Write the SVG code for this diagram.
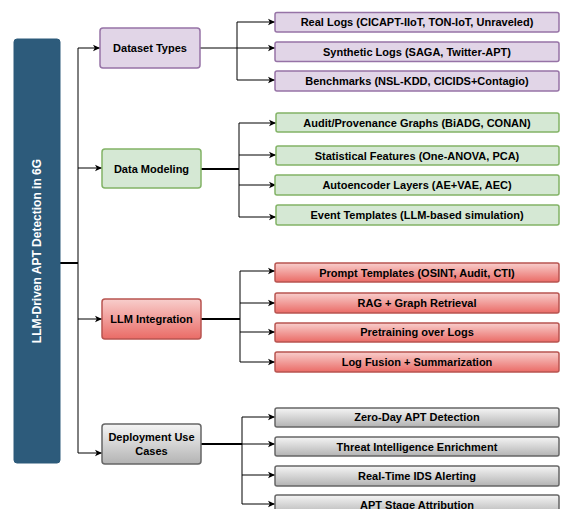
<svg xmlns="http://www.w3.org/2000/svg" width="568" height="509" viewBox="0 0 568 509">
<defs>
<linearGradient id="gRed" x1="0" y1="0" x2="0" y2="1"><stop offset="0" stop-color="#f8cecc"/><stop offset="1" stop-color="#ea6b66"/></linearGradient>
<linearGradient id="gGray" x1="0" y1="0" x2="0" y2="1"><stop offset="0" stop-color="#f5f5f5"/><stop offset="1" stop-color="#b3b3b3"/></linearGradient>
<marker id="arr" markerWidth="8" markerHeight="8" refX="7" refY="4" orient="auto" markerUnits="userSpaceOnUse"><path d="M0,0.8 L7,4 L0,7.2 L1.8,4 Z" fill="#000"/></marker>
</defs>
<style>
text{font-family:"Liberation Sans",Arial,sans-serif;font-weight:bold;font-size:11px;fill:#000;text-anchor:middle;dominant-baseline:central}
.purple{fill:#e1d5e7;stroke:#9673a6;stroke-width:1.5}
.green{fill:#d5e8d4;stroke:#82b366;stroke-width:1.5}
.red{fill:url(#gRed);stroke:#b85450;stroke-width:1.5}
.gray{fill:url(#gGray);stroke:#666666;stroke-width:1.5}
.c{fill:none;stroke:#000;stroke-width:1}
.t{fill:none;stroke:#000;stroke-width:2}
.a{fill:none;stroke:#000;stroke-width:1;marker-end:url(#arr)}
</style>
<g id="connectors">
<path class="t" d="M60,263 H78"/>
<path class="c" d="M78,48 V453"/>
<path class="a" d="M78,48 H100"/>
<path class="a" d="M78,168 H102"/>
<path class="a" d="M78,319 H102"/>
<path class="a" d="M78,453 H102"/>
<path class="c" d="M200,48 H237"/>
<path class="c" d="M237,22 V80"/>
<path class="a" d="M237,22 H275"/>
<path class="a" d="M237,48 H275"/>
<path class="a" d="M237,80 H275"/>
<path class="t" d="M201,169 H239"/>
<path class="c" d="M239,123 V217"/>
<path class="a" d="M239,123 H276"/>
<path class="a" d="M239,155 H276"/>
<path class="a" d="M239,185 H276"/>
<path class="a" d="M239,217 H276"/>
<path class="t" d="M201,319 H240"/>
<path class="c" d="M240,271 V362"/>
<path class="a" d="M240,271 H275"/>
<path class="a" d="M240,303 H275"/>
<path class="a" d="M240,332 H275"/>
<path class="a" d="M240,362 H275"/>
<path class="t" d="M201,444 H242"/>
<path class="c" d="M242,417 V504"/>
<path class="a" d="M242,417 H275"/>
<path class="a" d="M242,444 H275"/>
<path class="a" d="M242,475 H275"/>
<path class="a" d="M242,504 H275"/>
</g>
<g id="root">
<rect x="14" y="39" width="46" height="424" rx="3" fill="#2d5b7b" stroke="#2d5b7b"/>
<text transform="translate(37,251) rotate(-90)" style="fill:#ffffff;font-size:12px">LLM-Driven APT Detection in 6G</text>
</g>
<g id="dataset-types"><rect class="purple" x="100" y="28" width="100" height="40" rx="3"/><text x="150" y="48">Dataset Types</text></g>
<g id="real-logs"><rect class="purple" x="275" y="12.5" width="284" height="19.5" rx="2"/><text x="417" y="22">Real Logs (CICAPT-IIoT, TON-IoT, Unraveled)</text></g>
<g id="synthetic-logs"><rect class="purple" x="275" y="42" width="284" height="19.5" rx="2"/><text x="417" y="51.5">Synthetic Logs (SAGA, Twitter-APT)</text></g>
<g id="benchmarks"><rect class="purple" x="275" y="71" width="284" height="20" rx="2"/><text x="417" y="81">Benchmarks (NSL-KDD, CICIDS+Contagio)</text></g>
<g id="data-modeling"><rect class="green" x="102" y="149" width="99" height="39" rx="3"/><text x="151.5" y="168.5">Data Modeling</text></g>
<g id="audit-graphs"><rect class="green" x="276" y="113" width="283" height="19" rx="2"/><text x="417" y="122.5">Audit/Provenance Graphs (BiADG, CONAN)</text></g>
<g id="statistical-features"><rect class="green" x="276" y="146" width="283" height="19" rx="2"/><text x="417" y="155.5">Statistical Features (One-ANOVA, PCA)</text></g>
<g id="autoencoder-layers"><rect class="green" x="275" y="175" width="284" height="20" rx="2"/><text x="417" y="185">Autoencoder Layers (AE+VAE, AEC)</text></g>
<g id="event-templates"><rect class="green" x="276" y="205" width="283" height="20" rx="2"/><text x="417" y="215">Event Templates (LLM-based simulation)</text></g>
<g id="llm-integration"><rect class="red" x="102" y="299" width="99" height="40" rx="3"/><text x="151.5" y="319">LLM Integration</text></g>
<g id="prompt-templates"><rect class="red" x="275" y="263" width="284" height="19" rx="2"/><text x="417" y="272.5">Prompt Templates (OSINT, Audit, CTI)</text></g>
<g id="rag"><rect class="red" x="275" y="293" width="284" height="20" rx="2"/><text x="417" y="302.5">RAG + Graph Retrieval</text></g>
<g id="pretraining"><rect class="red" x="275" y="323" width="284" height="19" rx="2"/><text x="417" y="332">Pretraining over Logs</text></g>
<g id="log-fusion"><rect class="red" x="275" y="352" width="284" height="20" rx="2"/><text x="417" y="361.5">Log Fusion + Summarization</text></g>
<g id="deployment"><rect class="gray" x="102" y="424" width="99" height="40" rx="3"/><text x="151.5" y="437">Deployment Use</text><text x="151.5" y="450.5">Cases</text></g>
<g id="zero-day"><rect class="gray" x="275" y="408" width="284" height="19" rx="2"/><text x="417" y="417">Zero-Day APT Detection</text></g>
<g id="threat-intel"><rect class="gray" x="275" y="437" width="284" height="19" rx="2"/><text x="417" y="446.5">Threat Intelligence Enrichment</text></g>
<g id="real-time-ids"><rect class="gray" x="275" y="466" width="284" height="20" rx="2"/><text x="417" y="476">Real-Time IDS Alerting</text></g>
<g id="apt-stage"><rect class="gray" x="275" y="495" width="284" height="20" rx="2"/><text x="417" y="504.5">APT Stage Attribution</text></g>
</svg>
